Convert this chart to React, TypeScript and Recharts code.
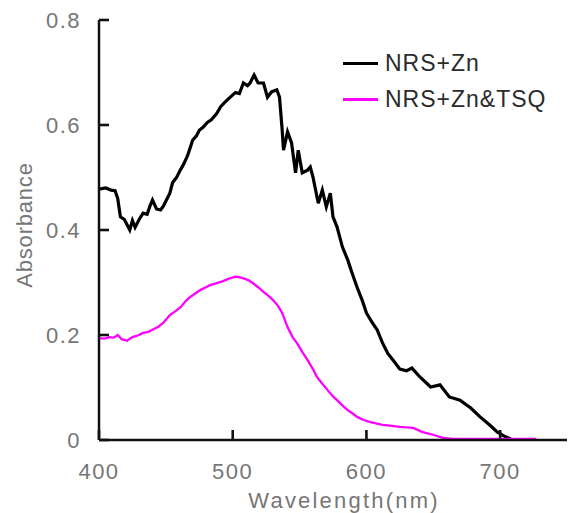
import { LineChart, Line, XAxis, YAxis, Legend } from 'recharts';

// UV-vis absorbance spectra, NRS+Zn with and without TSQ

const xTicks = [400, 500, 600, 700];
const yTicks = [0, 0.2, 0.4, 0.6, 0.8];
const seriesNames = ['NRS+Zn', 'NRS+Zn&TSQ'];

const znWavelength = [
  400, 405, 409, 412, 414, 416, 419, 421, 423, 425,
  427, 430, 433, 436, 438, 440, 443, 446, 448, 451,
  453, 455, 458, 461, 463, 466, 468, 470, 473, 475,
  478, 481, 484, 488, 491, 494, 496, 499, 502, 505,
  508, 511, 513, 516, 519, 523, 526, 529, 533, 535,
  537, 538, 541, 544, 547, 549, 552, 556, 558, 560,
  564, 567, 570, 573, 575, 578, 582, 586, 589, 593,
  597, 600, 604, 608, 612, 616, 620, 625, 630, 634,
  640, 648, 655, 662, 670, 678, 685, 692, 698, 704,
  708,
];
const znAbs = [
  0.478, 0.48, 0.476, 0.475, 0.46, 0.425, 0.42, 0.41, 0.4, 0.418,
  0.405, 0.42, 0.432, 0.43, 0.445, 0.457, 0.44, 0.438, 0.445, 0.46,
  0.47, 0.49, 0.5, 0.515, 0.524, 0.54, 0.555, 0.571, 0.58, 0.59,
  0.596, 0.605, 0.61, 0.622, 0.635, 0.643, 0.648, 0.655, 0.662, 0.66,
  0.68, 0.675, 0.68, 0.695, 0.68, 0.68, 0.653, 0.663, 0.667, 0.653,
  0.59, 0.552, 0.587, 0.566, 0.509, 0.552, 0.509, 0.514, 0.52, 0.501,
  0.451, 0.476, 0.444, 0.47, 0.425, 0.406, 0.368, 0.343, 0.32, 0.291,
  0.265, 0.242, 0.225, 0.21, 0.185, 0.165, 0.152, 0.135, 0.132, 0.137,
  0.12, 0.101, 0.105, 0.082, 0.076, 0.061, 0.044, 0.029, 0.015, 0.006,
  0.002,
];

const tsqWavelength = [
  400, 404, 408, 411, 414, 417, 421, 425, 429, 433,
  437, 440, 444, 448, 453, 457, 461, 465, 468, 472,
  476, 480, 483, 487, 491, 495, 498, 502, 505, 508,
  512, 515, 519, 523, 527, 530, 534, 537, 541, 545,
  548, 552, 556, 560, 563, 567, 571, 575, 578, 582,
  586, 590, 593, 598, 603, 608, 612, 619, 625, 630,
  635, 642, 650, 657, 665, 680, 700, 715, 727,
];
const tsqAbs = [
  0.194, 0.193, 0.196, 0.195, 0.2, 0.192, 0.189, 0.196, 0.199, 0.204,
  0.206, 0.21, 0.215, 0.223, 0.238, 0.245, 0.253, 0.265, 0.272, 0.279,
  0.286, 0.291, 0.295, 0.298, 0.301, 0.305, 0.308, 0.311, 0.31, 0.308,
  0.304, 0.299, 0.291, 0.282, 0.274, 0.267, 0.255, 0.242, 0.215, 0.195,
  0.185, 0.168, 0.152, 0.135, 0.12, 0.107, 0.095, 0.083, 0.076, 0.066,
  0.057, 0.05, 0.044, 0.038, 0.034, 0.031, 0.029, 0.027, 0.025, 0.024,
  0.023, 0.015, 0.01, 0.004, 0.002, 0.002, 0.002, 0.002, 0.002,
];

const znData = znWavelength.map((wl, i) => ({ wl, abs: znAbs[i] }));
const tsqData = tsqWavelength.map((wl, i) => ({ wl, abs: tsqAbs[i] }));

const FONT = '"Liberation Sans", Arial, sans-serif';
const TICK_GREY = '#767676';
const AXIS_STYLE = { stroke: '#111', strokeWidth: 2.5 };
const TICK_LINE = { stroke: '#111', strokeWidth: 2.6 };

// tick lines point inward (negative tickSize), labels drawn here
const YTick = ({ x, y, payload }: any) => {
  const v = payload.value as number;
  return (
    <text x={x + 1} y={y} dy={8} textAnchor="end" fill={TICK_GREY}
      fontSize={22} letterSpacing={1.5} fontFamily={FONT}>
      {v === 0 ? '0' : v.toFixed(1)}
    </text>
  );
};

const XTick = ({ x, y, payload }: any) => (
  <text x={x} y={y + 39} textAnchor="middle" fill={TICK_GREY}
    fontSize={22} letterSpacing={1.5} fontFamily={FONT}>
    {payload.value}
  </text>
);

const renderLegend = ({ payload }: any) => (
  <div style={{ fontFamily: FONT }}>
    {(payload || []).map((entry: any) => (
      <div key={entry.value} style={{ display: 'flex', alignItems: 'center', height: 36 }}>
        <span style={{ width: 35, height: 3, background: entry.color, marginRight: 7 }} />
        <span style={{ fontSize: 23, letterSpacing: 1, color: '#2b2b2b' }}>{entry.value}</span>
      </div>
    ))}
  </div>
);

export default function App() {
  return (
    <div style={{ position: 'absolute', left: 0, top: 0, background: '#fff' }}>
      <LineChart width={569} height={513} margin={{ top: 20, right: 2, left: 0, bottom: 0 }}
        style={{ fontFamily: FONT }}>
        <XAxis
          type="number"
          dataKey="wl"
          domain={[400, 750]}
          ticks={xTicks}
          allowDataOverflow
          height={73}
          tickSize={-10}
          tickMargin={10}
          tick={<XTick />}
          tickLine={TICK_LINE}
          axisLine={AXIS_STYLE}
          label={({ viewBox }: any) => (
            <text x={viewBox.x + viewBox.width / 2 + 11} y={viewBox.y + 68}
              textAnchor="middle" fill={TICK_GREY} fontSize={22} letterSpacing={2.2}
              fontFamily={FONT}>
              Wavelength(nm)
            </text>
          )}
        />
        <YAxis
          type="number"
          dataKey="abs"
          domain={[0, 0.8]}
          ticks={yTicks}
          width={99}
          tickSize={-10}
          tickMargin={29}
          tick={<YTick />}
          tickLine={TICK_LINE}
          axisLine={AXIS_STYLE}
          label={({ viewBox }: any) => {
            const cx = viewBox.x + 24;
            const cy = viewBox.y + viewBox.height / 2 - 5;
            return (
              <text x={cx} y={cy} transform={`rotate(-90 ${cx} ${cy})`} textAnchor="middle"
                dominantBaseline="central" fill={TICK_GREY} fontSize={22} letterSpacing={0.8}
                fontFamily={FONT}>
                Absorbance
              </text>
            );
          }}
        />
        <Legend
          layout="vertical"
          align="center"
          verticalAlign="middle"
          content={renderLegend}
          wrapperStyle={{ top: 45, left: 343, width: 220 }}
        />
        <Line
          data={znData}
          dataKey="abs"
          name={seriesNames[0]}
          type="linear"
          stroke="#000"
          strokeWidth={3.2}
          dot={false}
          isAnimationActive={false}
        />
        <Line
          data={tsqData}
          dataKey="abs"
          name={seriesNames[1]}
          type="linear"
          stroke="#ff00ff"
          strokeWidth={2.3}
          dot={false}
          isAnimationActive={false}
        />
      </LineChart>
    </div>
  );
}
